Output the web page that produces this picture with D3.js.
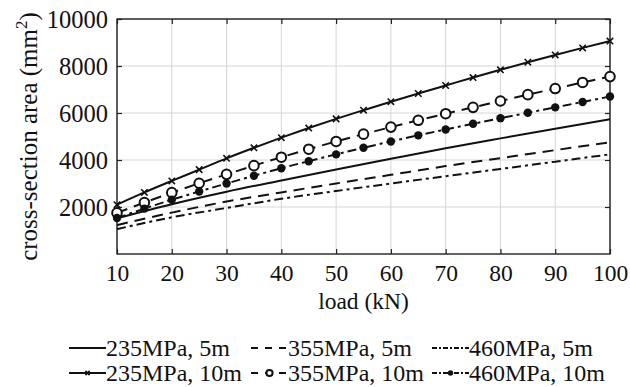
<!DOCTYPE html>
<meta charset="utf-8" />
<title>cross-section area vs load</title>
<script src="https://d3js.org/d3.v7.min.js"></script>
<style>
  body { margin: 0; background: #fff; }
  svg text {
    font-family: "Liberation Serif", "Times New Roman", Times, "DejaVu Serif", serif !important;
  }
</style>
<div id="chart"></div>
<script>
  // loads (kN)
  var loads10 = [10, 20, 30, 40, 50, 60, 70, 80, 90, 100];
  var loads5 = [10, 15, 20, 25, 30, 35, 40, 45, 50, 55, 60, 65, 70, 75, 80, 85, 90, 95, 100];

  // 5 m span, read every 10 kN
  var s235_5 = [1520, 2120, 2650, 3130, 3600, 4050, 4500, 4920, 5330, 5730];
  var s355_5 = [1230, 1760, 2230, 2620, 3000, 3370, 3740, 4080, 4420, 4750];
  var s460_5 = [1060, 1560, 1960, 2350, 2680, 3000, 3310, 3620, 3930, 4240];

  // 10 m span, read every 5 kN (one marker each)
  var s235_10 = [2100, 2620, 3110, 3590, 4070, 4520, 4950, 5360, 5750, 6120,
                 6480, 6830, 7170, 7510, 7840, 8160, 8470, 8770, 9060];
  var s355_10 = [1750, 2190, 2610, 3010, 3390, 3760, 4120, 4460, 4790, 5100,
                 5400, 5690, 5970, 6240, 6510, 6780, 7040, 7300, 7550];
  var s460_10 = [1530, 1930, 2310, 2660, 3000, 3330, 3650, 3950, 4240, 4520,
                 4790, 5050, 5300, 5540, 5780, 6010, 6240, 6470, 6700];

  var xTicks = [10, 20, 30, 40, 50, 60, 70, 80, 90, 100];
  var yTicks = [2000, 4000, 6000, 8000, 10000];
  var labels = ["235MPa, 5m", "355MPa, 5m", "460MPa, 5m",
                "235MPa, 10m", "355MPa, 10m", "460MPa, 10m"];

  var W = 630, H = 387;
  var margin = { top: 19, right: 20, bottom: 133, left: 117 };
  var iw = W - margin.left - margin.right;
  var ih = H - margin.top - margin.bottom;

  var dashed = "11,7";
  var dashdot = "9,4,3,4";

  var series = [
    { name: labels[0], x: loads10, y: s235_5, dash: null, mark: null },
    { name: labels[1], x: loads10, y: s355_5, dash: dashed, mark: null },
    { name: labels[2], x: loads10, y: s460_5, dash: dashdot, mark: null },
    { name: labels[3], x: loads5, y: s235_10, dash: null, mark: "x" },
    { name: labels[4], x: loads5, y: s355_10, dash: dashed, mark: "o" },
    { name: labels[5], x: loads5, y: s460_10, dash: dashdot, mark: "dot" }
  ];

  var svg = d3.select("#chart").append("svg")
    .attr("width", W).attr("height", H);

  var g = svg.append("g")
    .attr("transform", "translate(" + margin.left + "," + margin.top + ")");

  var x = d3.scaleLinear().domain([10, 100]).range([0, iw]);
  var y = d3.scaleLinear().domain([0, 10000]).range([ih, 0]);

  // grid
  g.append("g").selectAll("line").data(xTicks).join("line")
    .attr("x1", d => x(d)).attr("x2", d => x(d))
    .attr("y1", 0).attr("y2", ih)
    .attr("stroke", "#d6d6d6").attr("stroke-width", 1);
  g.append("g").selectAll("line").data(yTicks).join("line")
    .attr("y1", d => y(d)).attr("y2", d => y(d))
    .attr("x1", 0).attr("x2", iw)
    .attr("stroke", "#d6d6d6").attr("stroke-width", 1);

  // axes, ticks pointing inwards on all four sides
  var fmt = d3.format("d");
  var bottomAxis = g.append("g")
    .attr("transform", "translate(0," + ih + ")")
    .call(d3.axisBottom(x).tickValues(xTicks).tickSize(-5).tickPadding(10).tickFormat(fmt));
  var leftAxis = g.append("g")
    .call(d3.axisLeft(y).tickValues(yTicks).tickSize(-5).tickPadding(9).tickFormat(fmt));
  g.append("g")
    .call(d3.axisTop(x).tickValues(xTicks).tickSize(-5).tickFormat(""));
  g.append("g")
    .attr("transform", "translate(" + iw + ",0)")
    .call(d3.axisRight(y).tickValues(yTicks).tickSize(-5).tickFormat(""));

  g.selectAll(".domain").remove();
  g.selectAll(".tick line").attr("stroke", "#222").attr("stroke-width", 1.2);
  bottomAxis.selectAll("text").attr("font-size", 23.5).attr("fill", "#111")
    .attr("dy", "0.71em");
  leftAxis.selectAll("text").attr("font-size", 24.5).attr("fill", "#111")
    .attr("dy", "0.36em");

  // frame
  g.append("rect").attr("width", iw).attr("height", ih)
    .attr("fill", "none").attr("stroke", "#222").attr("stroke-width", 1.4);

  // lines
  var line = d3.line().curve(d3.curveMonotoneX);
  series.forEach(function (s) {
    var pts = s.x.map((v, i) => [x(v), y(s.y[i])]);
    g.append("path").datum(pts)
      .attr("d", line)
      .attr("fill", "none")
      .attr("stroke", "#111")
      .attr("stroke-width", 2)
      .attr("stroke-dasharray", s.dash);
    if (s.mark) drawMarks(g, pts, s.mark, 1);
  });

  function drawMarks(sel, pts, type, k) {
    var m = sel.append("g");
    pts.forEach(function (p) {
      if (type === "x") {
        var r = 3.2 * k;
        m.append("path")
          .attr("d", "M" + (p[0] - r) + "," + (p[1] - r) + "L" + (p[0] + r) + "," + (p[1] + r) +
                     "M" + (p[0] - r) + "," + (p[1] + r) + "L" + (p[0] + r) + "," + (p[1] - r))
          .attr("stroke", "#111").attr("stroke-width", 1.6);
      } else if (type === "o") {
        m.append("circle").attr("cx", p[0]).attr("cy", p[1]).attr("r", 4.8 * k)
          .attr("fill", "#fff").attr("stroke", "#111").attr("stroke-width", 2);
      } else {
        m.append("circle").attr("cx", p[0]).attr("cy", p[1]).attr("r", 4.2 * k)
          .attr("fill", "#111");
      }
    });
  }

  // axis titles
  svg.append("text")
    .attr("x", margin.left + iw / 2).attr("y", 309)
    .attr("text-anchor", "middle").attr("font-size", 23.5).attr("fill", "#111")
    .text("load (kN)");

  var yl = svg.append("text")
    .attr("transform", "translate(37," + (margin.top + ih / 2) + ") rotate(-90)")
    .attr("text-anchor", "middle").attr("font-size", 25).attr("fill", "#111");
  yl.append("tspan").text("cross-section area (mm");
  yl.append("tspan").attr("font-size", 17).attr("dy", -10).text("2");
  yl.append("tspan").attr("dy", 10).text(")");

  // legend
  var colX = [69, 251, 432];
  var rowY = [348, 373];
  var legDash = [null, "7,7", "5,2,2,2"];
  series.forEach(function (s, i) {
    var col = i % 3, row = Math.floor(i / 3);
    var lx = colX[col], ly = rowY[row];
    var lg = svg.append("g");
    lg.append("line")
      .attr("x1", lx).attr("x2", lx + 37).attr("y1", ly).attr("y2", ly)
      .attr("stroke", "#111").attr("stroke-width", 2)
      .attr("stroke-dasharray", legDash[col]);
    if (s.mark) drawMarks(lg, [[lx + 18.5, ly]], s.mark, 0.65);
    lg.append("text")
      .attr("x", lx + 37).attr("y", ly).attr("dy", "0.33em")
      .attr("font-size", 24).attr("fill", "#111")
      .text(s.name);
  });
</script>
